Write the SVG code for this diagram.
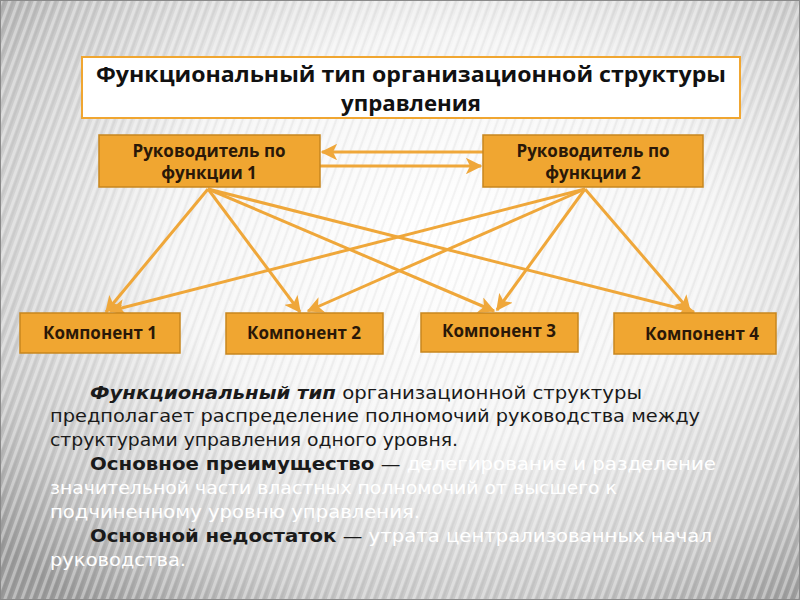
<svg xmlns="http://www.w3.org/2000/svg" width="800" height="600" viewBox="0 0 800 600">
<defs>
<radialGradient id="bg" cx="0.55" cy="0.4" r="0.75">
<stop offset="0" stop-color="#ffffff"/>
<stop offset="0.45" stop-color="#f4f4f4"/>
<stop offset="0.8" stop-color="#c8c8c8"/>
<stop offset="1" stop-color="#9a9a9a"/>
</radialGradient>
<pattern id="stripes" width="8" height="8" patternUnits="userSpaceOnUse" patternTransform="rotate(20)">
<rect width="3" height="8" fill="#ffffff" opacity="0.35"/>
<rect x="4" width="2" height="8" fill="#000000" opacity="0.04"/>
</pattern>
<marker id="ah" viewBox="0 0 12 12" refX="11" refY="6" markerWidth="5.5" markerHeight="5.5" orient="auto" markerUnits="strokeWidth">
<path d="M0,0 L12,6 L0,12 L3,6 Z" fill="#EFA73A"/>
</marker>
</defs>
<style>
.box{fill:#F0A631;stroke:#C8861E;stroke-width:1.5}
.bt{font-family:"Open Sans","DejaVu Sans",sans-serif;font-weight:bold;font-size:17px;fill:#2a1808;text-anchor:middle}
.con{stroke:#EFA73A;stroke-width:3;fill:none;marker-end:url(#ah)}
.body{font-family:"DejaVu Sans",sans-serif;font-size:18.5px;fill:#1a1a1a}
.w{fill:#ffffff}
.b{font-weight:bold}
.tt{font-family:"Open Sans","DejaVu Sans",sans-serif;font-weight:bold;font-size:21px;fill:#111;text-anchor:middle}
</style>
<rect width="800" height="600" fill="url(#bg)"/>
<rect width="800" height="600" fill="url(#stripes)"/>
<rect x="0.5" y="0.5" width="799" height="599" fill="none" stroke="#8a8a8a" stroke-width="1"/>

<g id="title">
<rect x="82" y="57" width="658" height="61" fill="#ffffff" stroke="#F0A631" stroke-width="2"/>
<text class="tt" x="411" y="82" textLength="630" lengthAdjust="spacingAndGlyphs">Функциональный тип организационной структуры</text>
<text class="tt" x="411" y="111" textLength="140" lengthAdjust="spacingAndGlyphs">управления</text>
</g>

<g id="connectors">
<line class="con" x1="483" y1="152" x2="322" y2="152"/>
<line class="con" x1="320" y1="166" x2="481" y2="166"/>
<line class="con" x1="208" y1="189" x2="106" y2="312"/>
<line class="con" x1="208" y1="189" x2="300" y2="312"/>
<line class="con" x1="208" y1="189" x2="494" y2="311"/>
<line class="con" x1="208" y1="189" x2="694" y2="312"/>
<line class="con" x1="585" y1="189" x2="110" y2="311"/>
<line class="con" x1="585" y1="189" x2="308" y2="311"/>
<line class="con" x1="585" y1="189" x2="497" y2="310"/>
<line class="con" x1="585" y1="189" x2="690" y2="311"/>
</g>

<g id="r1">
<rect class="box" x="99" y="135" width="221" height="52"/>
<text class="bt" x="209" y="157">Руководитель  по</text>
<text class="bt" x="209" y="179">функции 1</text>
</g>
<g id="r2">
<rect class="box" x="483" y="135" width="220" height="52"/>
<text class="bt" x="593" y="157">Руководитель  по</text>
<text class="bt" x="593" y="179">функции 2</text>
</g>

<g id="c1">
<rect class="box" x="20" y="313" width="160" height="40"/>
<text class="bt" x="100" y="339">Компонент 1</text>
</g>
<g id="c2">
<rect class="box" x="226" y="313" width="157" height="41"/>
<text class="bt" x="304" y="339">Компонент 2</text>
</g>
<g id="c3">
<rect class="box" x="421" y="313" width="157" height="39"/>
<text class="bt" x="499" y="337">Компонент 3</text>
</g>
<g id="c4">
<rect class="box" x="614" y="313" width="162" height="41"/>
<text class="bt" x="702" y="340">Компонент 4</text>
</g>

<g id="body" class="body">
<text x="90" y="399" textLength="552" lengthAdjust="spacingAndGlyphs"><tspan class="b" font-style="italic">Функциональный тип</tspan> организационной структуры</text>
<text x="50" y="422" textLength="650" lengthAdjust="spacingAndGlyphs">предполагает распределение полномочий руководства между</text>
<text x="50" y="446" textLength="408" lengthAdjust="spacingAndGlyphs">структурами управления одного уровня.</text>
<text x="90" y="470" textLength="626" lengthAdjust="spacingAndGlyphs"><tspan class="b">Основное преимущество</tspan> — <tspan class="w">делегирование и разделение</tspan></text>
<text x="50" y="494" class="w" textLength="567" lengthAdjust="spacingAndGlyphs">значительной части властных полномочий от высшего к</text>
<text x="50" y="518" class="w" textLength="370" lengthAdjust="spacingAndGlyphs">подчиненному уровню управления.</text>
<text x="90" y="542" textLength="622" lengthAdjust="spacingAndGlyphs"><tspan class="b">Основной недостаток</tspan> — <tspan class="w">утрата централизованных начал</tspan></text>
<text x="50" y="566" class="w" textLength="136" lengthAdjust="spacingAndGlyphs">руководства.</text>
</g>
</svg>
